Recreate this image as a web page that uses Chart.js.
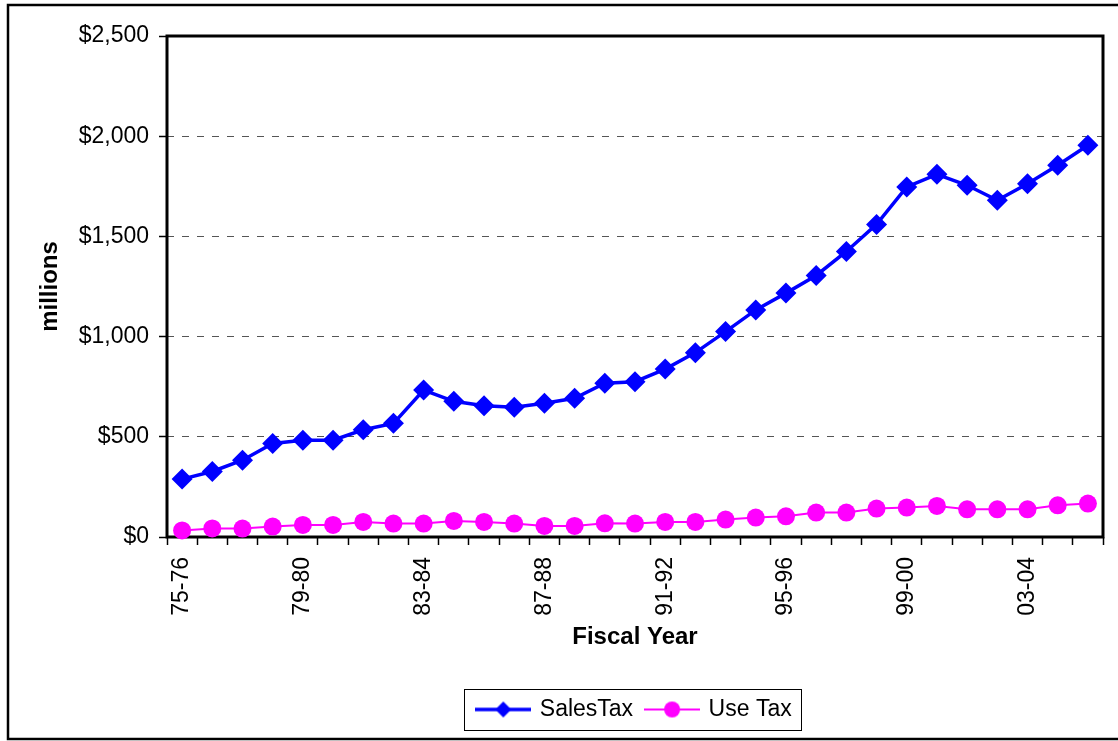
<!DOCTYPE html>
<html>
<head>
<meta charset="utf-8">
<script src="https://cdn.jsdelivr.net/npm/chart.js@4.4.0/dist/chart.umd.min.js"></script>
<style>
  html, body { margin: 0; padding: 0; background: #fff; }
</style>
</head>
<body>
<canvas id="taxChart" width="1118" height="741"></canvas>
<script>
// fiscal years and revenue in millions
const years = ['75-76','76-77','77-78','78-79','79-80','80-81','81-82','82-83','83-84','84-85',
  '85-86','86-87','87-88','88-89','89-90','90-91','91-92','92-93','93-94','94-95',
  '95-96','96-97','97-98','98-99','99-00','00-01','01-02','02-03','03-04','04-05','05-06'];
const salesTax = [289, 327, 383, 467, 483, 483, 535, 567, 733, 677,
  655, 647, 667, 692, 767, 775, 838, 920, 1025, 1133,
  1217, 1305, 1425, 1560, 1747, 1810, 1755, 1680, 1763, 1855, 1955];
const useTax = [33, 43, 42, 52, 60, 60, 75, 67, 67, 80,
  75, 67, 55, 55, 68, 67, 75, 75, 87, 97,
  103, 122, 122, 142, 147, 155, 138, 138, 138, 158, 167];
const yMin = 0, yMax = 2500, yStep = 500;

const FONT = 'Liberation Sans, Arial, sans-serif';

// legend icon: short line with the marker in the middle
function legendIcon(color, lineW, shape) {
  const c = document.createElement('canvas');
  c.width = 56; c.height = 22;
  const g = c.getContext('2d');
  g.strokeStyle = color; g.fillStyle = color; g.lineWidth = lineW;
  g.beginPath(); g.moveTo(0, 11); g.lineTo(56, 11); g.stroke();
  g.beginPath();
  if (shape === 'diamond') {
    g.moveTo(28, 3); g.lineTo(36, 11); g.lineTo(28, 19); g.lineTo(20, 11);
  } else {
    g.arc(28, 11, 8, 0, Math.PI * 2);
  }
  g.closePath(); g.fill();
  return c;
}
const salesIcon = legendIcon('#0000ff', 3.5, 'diamond');
const useIcon = legendIcon('#ff00ff', 2, 'circle');

// white page, outer border, plot frame, legend box
const framePlugin = {
  id: 'frames',
  beforeDraw(chart) {
    const ctx = chart.ctx;
    ctx.save();
    ctx.fillStyle = '#fff';
    ctx.fillRect(0, 0, chart.width, chart.height);
    ctx.restore();
  },
  beforeDatasetsDraw(chart) {
    const {ctx, chartArea: a} = chart;
    ctx.save();
    ctx.strokeStyle = '#000';
    ctx.lineWidth = 3;
    ctx.strokeRect(a.left, a.top, a.right - a.left, a.bottom - a.top);
    ctx.restore();
  },
  afterDraw(chart) {
    const ctx = chart.ctx;
    ctx.save();
    ctx.strokeStyle = '#000';
    ctx.lineWidth = 2.5;
    ctx.strokeRect(8, 5, 1130, 734);
    const boxes = chart.legend.legendHitBoxes;
    if (boxes && boxes.length) {
      const l = boxes[0].left - 14;
      const r = boxes[boxes.length - 1].left + boxes[boxes.length - 1].width + 10;
      const t = boxes[0].top - 9;
      const b = boxes[0].top + boxes[0].height + 9;
      ctx.lineWidth = 1;
      ctx.strokeRect(Math.round(l) + 0.5, Math.round(t) + 0.5, Math.round(r - l), Math.round(b - t));
    }
    ctx.restore();
  }
};

new Chart(document.getElementById('taxChart'), {
  type: 'line',
  data: {
    labels: years,
    datasets: [{
      label: 'SalesTax',
      data: salesTax,
      borderColor: '#0000ff',
      backgroundColor: '#0000ff',
      borderWidth: 3.5,
      pointStyle: 'rectRot',
      pointRadius: 10.5,
      pointBorderWidth: 0,
      tension: 0,
      clip: false
    }, {
      label: 'Use Tax',
      data: useTax,
      borderColor: '#ff00ff',
      backgroundColor: '#ff00ff',
      borderWidth: 2,
      pointStyle: 'circle',
      pointRadius: 9,
      pointBorderWidth: 0,
      tension: 0,
      clip: false
    }]
  },
  options: {
    responsive: false,
    animation: false,
    layout: { padding: { left: 0, right: 15, top: 36, bottom: 10 } },
    plugins: {
      tooltip: { enabled: false },
      legend: {
        position: 'bottom',
        fullSize: false,
        labels: {
          color: '#000',
          font: { family: FONT, size: 23 },
          usePointStyle: true,
          pointStyleWidth: 50,
          padding: 14,
          generateLabels: () => [
            { text: 'SalesTax', pointStyle: salesIcon, fontColor: '#000', lineWidth: 0, datasetIndex: 0 },
            { text: 'Use Tax', pointStyle: useIcon, fontColor: '#000', lineWidth: 0, datasetIndex: 1 }
          ]
        }
      }
    },
    scales: {
      x: {
        offset: true,
        afterFit: s => { s.height = 147; s.paddingLeft = 0; s.paddingRight = 0; },
        grid: {
          offset: true,
          drawOnChartArea: false,
          drawTicks: true,
          tickLength: 8,
          tickColor: '#000',
          tickWidth: 1.5
        },
        border: { display: false },
        ticks: {
          autoSkip: false,
          minRotation: 90,
          maxRotation: 90,
          padding: 12,
          color: '#000',
          font: { family: FONT, size: 23 },
          callback: (v, i) => (i % 4 === 0 ? years[i] : '')
        },
        title: {
          display: true,
          text: 'Fiscal Year',
          color: '#000',
          font: { family: FONT, size: 24, weight: 'bold' },
          padding: { top: 6, bottom: 32 }
        }
      },
      y: {
        min: yMin,
        max: yMax,
        afterFit: s => { s.width = 167; },
        grid: {
          color: '#555',
          lineWidth: 1,
          drawTicks: true,
          tickLength: 8,
          tickColor: '#000',
          tickWidth: 1.5
        },
        border: { display: false, dash: [7, 8] },
        ticks: {
          stepSize: yStep,
          padding: 10,
          color: '#000',
          font: { family: FONT, size: 23 },
          callback: v => '$' + v.toLocaleString('en-US')
        },
        title: {
          display: true,
          text: 'millions',
          color: '#000',
          font: { family: FONT, size: 24, weight: 'bold' },
          padding: { top: 36, bottom: 10 }
        }
      }
    }
  },
  plugins: [framePlugin]
});
</script>
</body>
</html>
